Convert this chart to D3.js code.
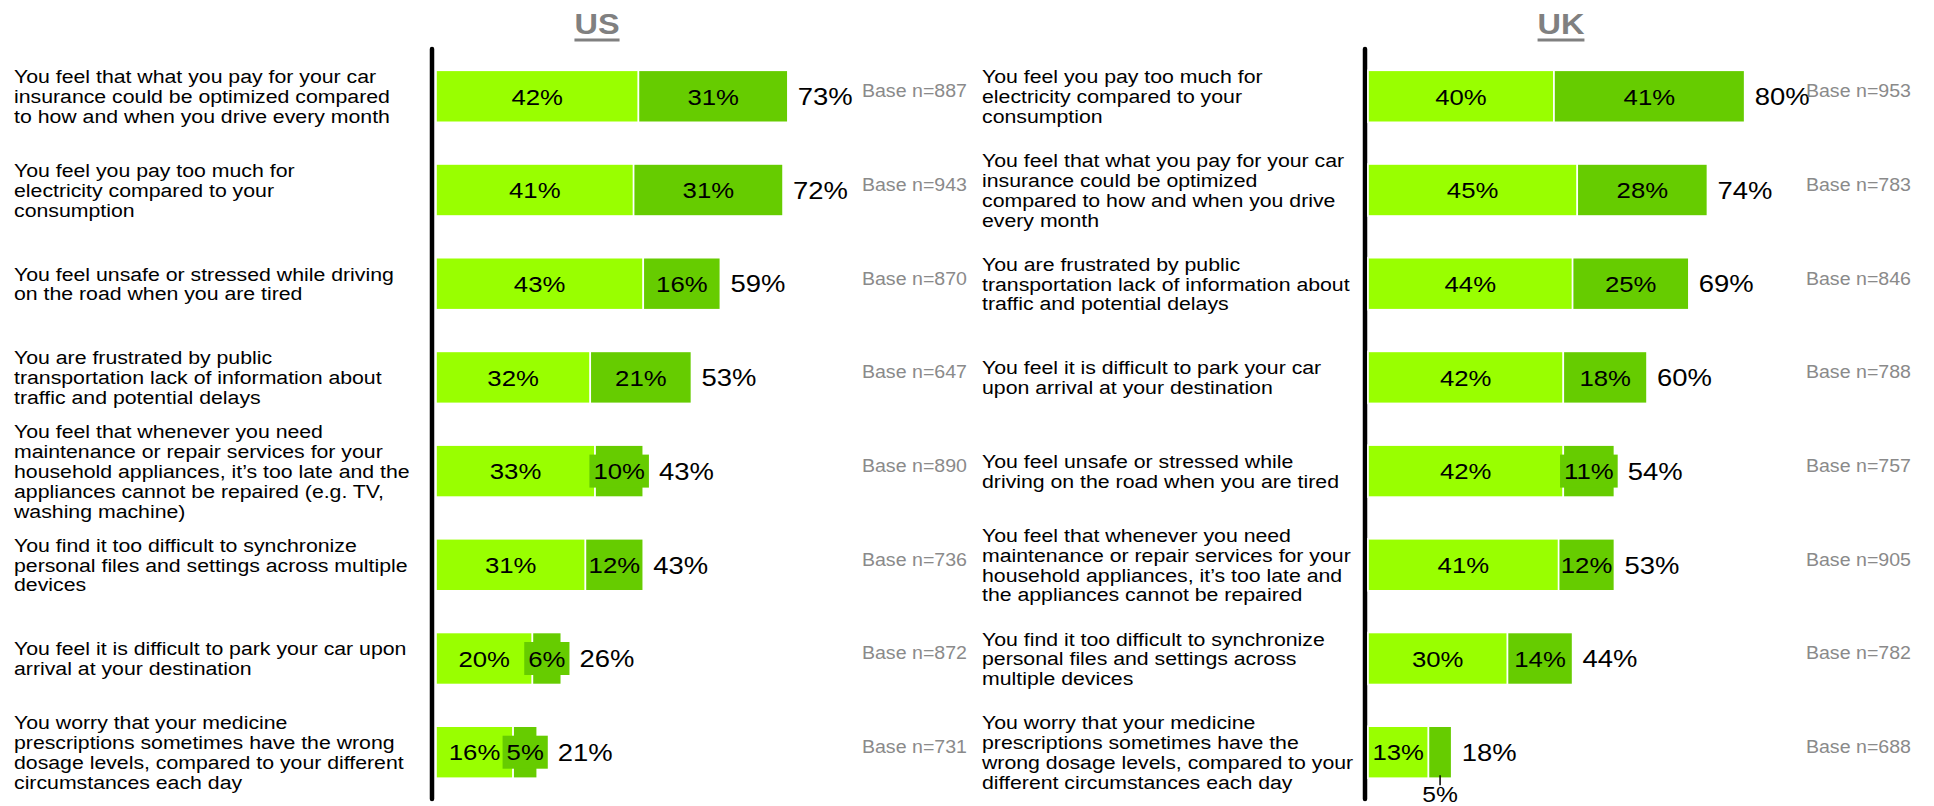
<!DOCTYPE html>
<html>
<head>
<meta charset="utf-8">
<script src="https://cdn.jsdelivr.net/npm/d3@7"></script>
<style>
  html, body { margin: 0; padding: 0; background: #ffffff; }
  svg { display: block; font-family: "Liberation Sans", Arial, Helvetica, sans-serif; }
</style>
</head>
<body>
<svg id="chart" width="1934" height="806"></svg>
<script>
// ---- US ----
const usCategories = [
  ["You feel that what you pay for your car", "insurance could be optimized compared", "to how and when you drive every month"],
  ["You feel you pay too much for", "electricity compared to your", "consumption"],
  ["You feel unsafe or stressed while driving", "on the road when you are tired"],
  ["You are frustrated by public", "transportation lack of information about", "traffic and potential delays"],
  ["You feel that whenever you need", "maintenance or repair services for your", "household appliances, it\u2019s too late and the", "appliances cannot be repaired (e.g. TV,", "washing machine)"],
  ["You find it too difficult to synchronize", "personal files and settings across multiple", "devices"],
  ["You feel it is difficult to park your car upon", "arrival at your destination"],
  ["You worry that your medicine", "prescriptions sometimes have the wrong", "dosage levels, compared to your different", "circumstances each day"]
];
const usFirst  = [42, 41, 43, 32, 33, 31, 20, 16];
const usSecond = [31, 31, 16, 21, 10, 12, 6, 5];
const usTotal  = [73, 72, 59, 53, 43, 43, 26, 21];
const usBase   = [887, 943, 870, 647, 890, 736, 872, 731];

// ---- UK ----
const ukCategories = [
  ["You feel you pay too much for", "electricity compared to your", "consumption"],
  ["You feel that what you pay for your car", "insurance could be optimized", "compared to how and when you drive", "every month"],
  ["You are frustrated by public", "transportation lack of information about", "traffic and potential delays"],
  ["You feel it is difficult to park your car", "upon arrival at your destination"],
  ["You feel unsafe or stressed while", "driving on the road when you are tired"],
  ["You feel that whenever you need", "maintenance or repair services for your", "household appliances, it\u2019s too late and", "the appliances cannot be repaired"],
  ["You find it too difficult to synchronize", "personal files and settings across", "multiple devices"],
  ["You worry that your medicine", "prescriptions sometimes have the", "wrong dosage levels, compared to your", "different circumstances each day"]
];
const ukFirst  = [40, 45, 44, 42, 42, 41, 30, 13];
const ukSecond = [41, 28, 25, 18, 11, 12, 14, 5];
const ukTotal  = [80, 74, 69, 60, 54, 53, 44, 18];
const ukBase   = [953, 783, 846, 788, 757, 905, 782, 688];

// ---- styling ----
const LIGHT = "#99ff00";
const DARK = "#66cc00";
const GREY = "#8a8a8a";
const SX = 1.12;            // horizontal stretch applied to all text
const FS_CAT = 19, LH_CAT = 19.8;
const FS_SEG = 23, FS_TOT = 24.5, FS_BASE = 17.5, FS_TITLE = 29;

const svg = d3.select("#chart");

function addText(parent, x, y, str, opts) {
  const t = parent.append("text")
    .attr("transform", `translate(${x},${y}) scale(${SX},1)`)
    .attr("font-size", opts.size)
    .attr("fill", opts.fill || "#000")
    .attr("text-anchor", opts.anchor || "start")
    .text(str);
  if (opts.weight) t.attr("font-weight", opts.weight);
  return t;
}

function drawPanel(p) {
  const g = svg.append("g");
  const keys = p.categories.map(c => c.join(" "));

  const y = d3.scaleBand().domain(keys).range([70.3, 778.2]).paddingInner(0.445).paddingOuter(0);
  const x = d3.scaleLinear().domain([0, 100]).range([p.barStart, p.barStart + p.pxPer100]);

  // title with underline
  const title = addText(g, p.titleX, 34, p.title, { size: FS_TITLE, fill: "#808080", anchor: "middle", weight: "bold" });
  const tw = title.node().getComputedTextLength() * SX;
  g.append("rect").attr("x", p.titleX - tw / 2).attr("y", 38.5).attr("width", tw).attr("height", 3).attr("fill", "#808080");

  // vertical axis line
  g.append("line")
    .attr("x1", p.axisX).attr("x2", p.axisX)
    .attr("y1", 49).attr("y2", 799)
    .attr("stroke", "#000").attr("stroke-width", 4.5).attr("stroke-linecap", "round");

  keys.forEach((key, i) => {
    const top = y(key), bh = y.bandwidth(), cy = top + bh / 2;
    const a = p.first[i], b = p.second[i];

    // category label, vertically centred on the bar
    const lines = p.categories[i];
    const b1 = cy - (lines.length - 1) * LH_CAT / 2 + 0.358 * FS_CAT;
    lines.forEach((ln, k) => addText(g, p.labelX, b1 + k * LH_CAT, ln, { size: FS_CAT }));

    // stacked segments
    g.append("rect").attr("x", x(0)).attr("y", top).attr("width", x(a) - x(0)).attr("height", bh)
      .attr("fill", LIGHT).attr("stroke", "#ffffff").attr("stroke-width", 1.6);
    g.append("rect").attr("x", x(a)).attr("y", top).attr("width", x(a + b) - x(a)).attr("height", bh)
      .attr("fill", DARK).attr("stroke", "#ffffff").attr("stroke-width", 1.6);

    // segment value labels
    const segBase = cy + 0.358 * FS_SEG;
    addText(g, (x(0) + x(a)) / 2, segBase, a + "%", { size: FS_SEG, anchor: "middle" });

    let rightEdge = x(a + b);
    const cx2 = (x(a) + x(a + b)) / 2;
    if (p.callout === i) {
      // value placed under the bar with a short leader
      g.append("line").attr("x1", cx2).attr("x2", cx2).attr("y1", top + bh - 3).attr("y2", top + bh + 7)
        .attr("stroke", "#000").attr("stroke-width", 1.5);
      addText(g, cx2, top + bh + 24, b + "%", { size: FS_SEG - 1, anchor: "middle" });
    } else {
      const boxG = g.append("g");
      const lbl = addText(g, cx2, segBase, b + "%", { size: FS_SEG, anchor: "middle" });
      const lw = lbl.node().getComputedTextLength() * SX;
      const segW = x(a + b) - x(a);
      if (lw + 4 > segW) {
        const bw = lw + 8;
        boxG.append("rect").attr("x", cx2 - bw / 2).attr("y", cy - 16.5).attr("width", bw).attr("height", 33)
          .attr("fill", DARK);
        rightEdge = Math.max(rightEdge, cx2 + bw / 2);
      }
    }

    // total
    addText(g, rightEdge + 10, cy + 0.358 * FS_TOT, p.total[i] + "%", { size: FS_TOT });

    // base size
    addText(g, p.baseRight, cy + 1, "Base n=" + p.base[i], { size: FS_BASE, fill: GREY, anchor: "end" });
  });
}

drawPanel({
  title: "US", titleX: 597,
  categories: usCategories, first: usFirst, second: usSecond, total: usTotal, base: usBase,
  labelX: 14, axisX: 432, barStart: 436, pxPer100: 482, baseRight: 967, callout: -1
});

drawPanel({
  title: "UK", titleX: 1561,
  categories: ukCategories, first: ukFirst, second: ukSecond, total: ukTotal, base: ukBase,
  labelX: 982, axisX: 1365, barStart: 1368, pxPer100: 465, baseRight: 1911, callout: 7
});
</script>
</body>
</html>
